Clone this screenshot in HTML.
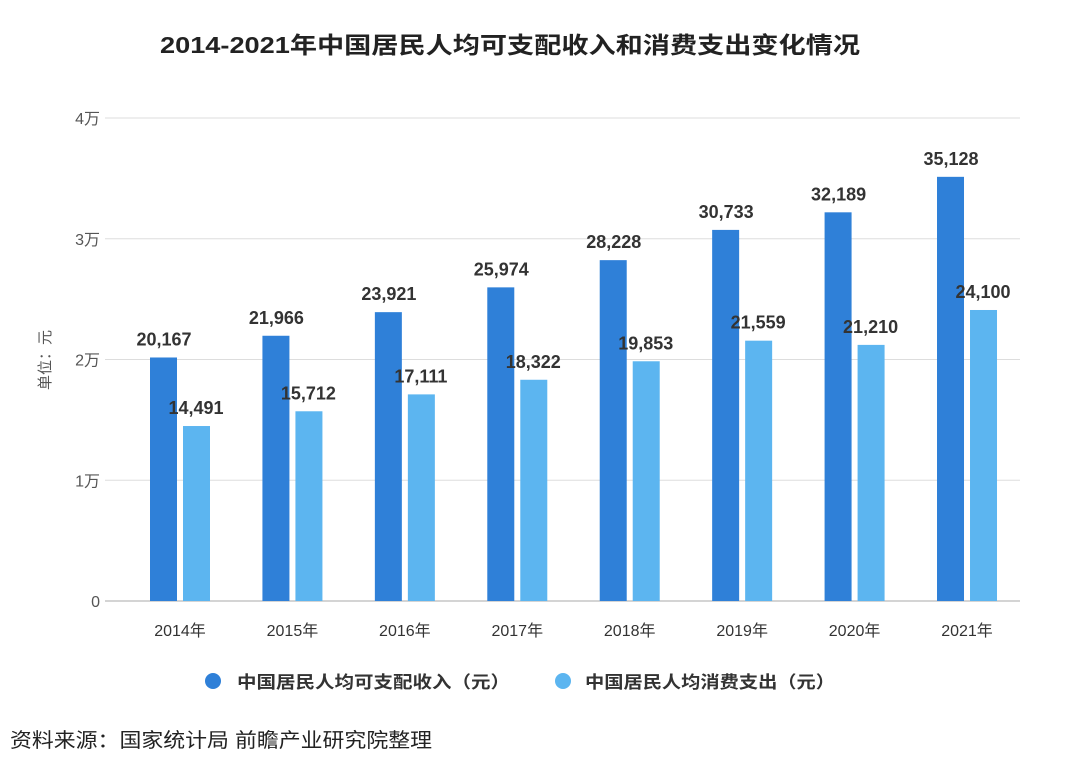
<!DOCTYPE html>
<html><head><meta charset="utf-8"><style>
body{margin:0;background:#fff;font-family:"Liberation Sans","Noto Sans CJK SC",sans-serif}
</style></head><body>
<svg width="1080" height="777" xmlns="http://www.w3.org/2000/svg">
<text x="160" y="53" textLength="700" lengthAdjust="spacingAndGlyphs" font-size="23" font-weight="bold" fill="#222" font-family="Liberation Sans,Noto Sans CJK SC,sans-serif">2014-2021年中国居民人均可支配收入和消费支出变化情况</text>
<g id="grid"></g><g id="bars"></g>
<text transform="translate(50,360) rotate(-90)" text-anchor="middle" font-size="15" fill="#555" font-family="Liberation Sans,Noto Sans CJK SC,sans-serif">单位：元</text>
<circle cx="213" cy="681" r="8" fill="#2f80d8"/>
<text x="237" y="688" textLength="273" lengthAdjust="spacingAndGlyphs" font-size="17" font-weight="bold" fill="#333" font-family="Liberation Sans,Noto Sans CJK SC,sans-serif">中国居民人均可支配收入（元）</text>
<circle cx="563" cy="681" r="8" fill="#5cb5f0"/>
<text x="585" y="688" textLength="250" lengthAdjust="spacingAndGlyphs" font-size="17" font-weight="bold" fill="#333" font-family="Liberation Sans,Noto Sans CJK SC,sans-serif">中国居民人均消费支出（元）</text>
<text x="10" y="747" textLength="422" lengthAdjust="spacingAndGlyphs" font-size="20" fill="#222" font-family="Liberation Sans,Noto Sans CJK SC,sans-serif">资料来源：国家统计局 前瞻产业研究院整理</text>
</svg>
<script>
const categories=["2014年","2015年","2016年","2017年","2018年","2019年","2020年","2021年"];
const income=[20167,21966,23921,25974,28228,30733,32189,35128];
const spend=[14491,15712,17111,18322,19853,21559,21210,24100];
const yTicks=[0,10000,20000,30000,40000];
const yTickLabels=["0","1万","2万","3万","4万"];
const NS="http://www.w3.org/2000/svg";
const F="Liberation Sans,Noto Sans CJK SC,sans-serif";
const y=v=>601-v*0.012075;
const x=i=>180+i*112.43;
function mk(t,a,p,txt){const e=document.createElementNS(NS,t);for(const k in a)e.setAttribute(k,a[k]);if(txt!=null)e.textContent=txt;p.appendChild(e);return e;}
const g=document.getElementById('grid'),b=document.getElementById('bars');
yTicks.forEach((v,i)=>{
 const l=mk('line',{x1:105,x2:1020,y1:y(v),y2:y(v),stroke:i==0?'#aaa':'#ddd','stroke-width':1},g);
 
 
 const t=mk('text',{x:100,y:y(v)+6,'text-anchor':'end','font-size':16,fill:'#555','font-family':F},g,yTickLabels[i]);
 
 
});
categories.forEach((c,i)=>{
 const t=mk('text',{x:x(i),y:636,'text-anchor':'middle','font-size':16,fill:'#333','font-family':F},g,c);
 
 
 const r1=mk('rect',{x:x(i)-30,y:y(income[i]),width:27,height:601-y(income[i]),fill:'#2f80d8'},b);
 
 
 const r2=mk('rect',{x:x(i)+3,y:y(spend[i]),width:27,height:601-y(spend[i]),fill:'#5cb5f0'},b);
 
 
 const l1=mk('text',{x:x(i)-16,y:y(income[i])-12,'text-anchor':'middle','font-size':18,'font-weight':'bold',fill:'#333','font-family':F},b,income[i].toLocaleString('en-US'));
 
 
 const l2=mk('text',{x:x(i)+16,y:y(spend[i])-12,'text-anchor':'middle','font-size':18,'font-weight':'bold',fill:'#333','font-family':F},b,spend[i].toLocaleString('en-US'));
 
 
});
</script>
</body></html>
